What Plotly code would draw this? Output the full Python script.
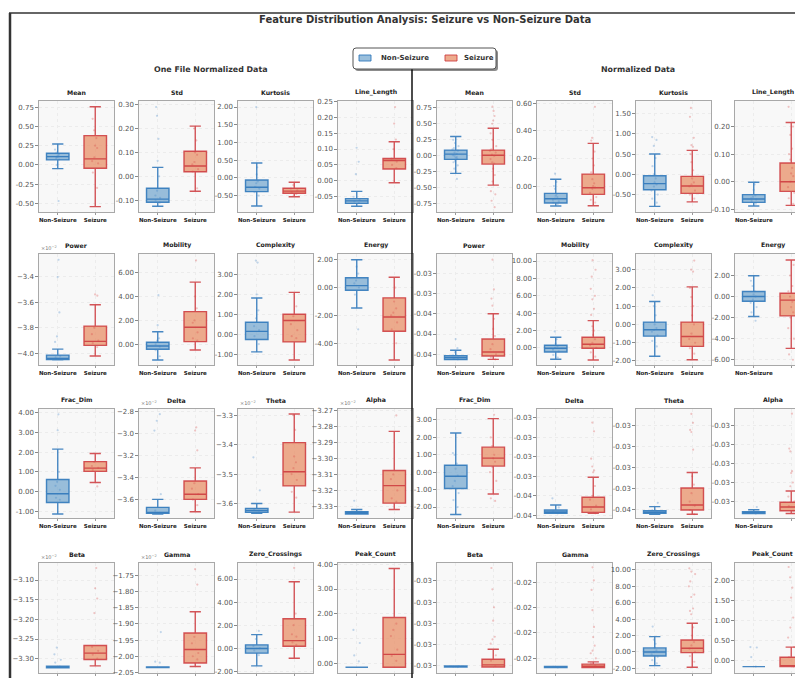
import plotly.graph_objects as go

# page body adds an 8px margin; reference pixel (x, y) -> figure pixel (x-8, y-8)
OFF = 8
W, H = 803 - OFF, 678 - OFF

features = ["Mean", "Std", "Kurtosis", "Line_Length",
            "Power", "Mobility", "Complexity", "Energy",
            "Frac_Dim", "Delta", "Theta", "Alpha",
            "Beta", "Gamma", "Zero_Crossings", "Peak_Count"]
groups = ["Non-Seizure", "Seizure"]
section_titles = ["One File Normalized Data", "Normalized Data"]
main_title = "Feature Distribution Analysis: Seizure vs Non-Seizure Data"

# ---------- One File Normalized Data ----------
# box stats: [lower whisker, q1, median, q3, upper whisker]
one_file_ns_stats = [
    [-0.048, 0.065, 0.108, 0.152, 0.273],
    [-0.125, -0.108, -0.095, -0.05, 0.0375],
    [-0.79, -0.386, -0.26, -0.056, 0.42],
    [-0.08, -0.071, -0.063, -0.056, -0.033],
    [-4.05, -4.047, -4.039, -4.013, -3.966],
    [-1.31, -0.42, -0.14, 0.17, 1.05],
    [-0.89, -0.27, 0.14, 0.6, 1.82],
    [-1.47, -0.19, 0.14, 0.70, 2.0],
    [-1.12, -0.54, -0.1, 0.62, 2.15],
    [-3.73, -3.725, -3.716, -3.67, -3.597],
    [-3.633, -3.63, -3.624, -3.617, -3.6],
    [-3.3348, -3.3348, -3.3341, -3.3333, -3.332],
    [-3.323, -3.3229, -3.321, -3.3194, -3.319],
    [-2.035, -2.035, -2.034, -2.033, -2.033],
    [-1.53, -0.43, -0.03, 0.29, 1.18],
    [-0.16, -0.16, -0.16, -0.16, -0.16],
]
one_file_s_stats = [
    [-0.543, -0.043, 0.078, 0.381, 0.758],
    [-0.0625, 0.019, 0.043, 0.105, 0.21],
    [-0.53, -0.43, -0.37, -0.29, -0.12],
    [-0.006, 0.037, 0.064, 0.07, 0.123],
    [-4.02, -3.937, -3.906, -3.787, -3.62],
    [-0.48, 0.22, 1.42, 2.73, 5.19],
    [-1.3, -0.39, 0.69, 1.0, 2.1],
    [-5.2, -3.14, -2.11, -0.74, 0.74],
    [0.47, 1.03, 1.19, 1.52, 1.93],
    [-3.71, -3.597, -3.55, -3.43, -3.31],
    [-3.629, -3.54, -3.492, -3.393, -3.296],
    [-3.332, -3.328, -3.317, -3.3075, -3.283],
    [-3.3183, -3.3022, -3.286, -3.2666, -3.2666],
    [-2.032, -2.021, -1.979, -1.928, -1.862],
    [-0.87, 0.17, 0.66, 2.56, 5.77],
    [-0.16, -0.16, 0.36, 1.85, 3.83],
]
one_file_ns_points = [
    [0.10, 0.12, 0.14, 0.09, 0.16, 0.07, 0.11, 0.20, 0.0, -0.47],
    [0.29, 0.253, 0.157, 0.065, -0.06, -0.09, -0.1, -0.11, -0.08, 0.0],
    [2.0, -0.15, -0.3, -0.25, -0.1, 0.1, -0.4, -0.5, 0.3],
    [0.104, 0.06, 0.021, -0.06, -0.065, -0.07, -0.05],
    [-3.27, -3.405, -3.68, -3.867, -3.91, -4.03, -4.04, -4.02],
    [4.1, 1.6, 0.0, -0.2, -0.5, 0.3, -1.0, 0.5],
    [3.7, 3.6, 2.0, 0.4, 0.2, -0.1, -0.5, 0.8, 1.2],
    [-3.0, 1.0, 0.5, 0.3, -0.5, 0.0, 1.5],
    [3.9, 3.1, 1.0, 0.5, 0.1, -0.3, -0.4, 0.3],
    [-2.82, -2.88, -2.97, -3.55, -3.7, -3.72],
    [-3.443, -3.555, -3.62, -3.625],
    [-3.3265, -3.334],
    [-3.2717, -3.289, -3.303, -3.31, -3.32],
    [-1.925, -2.017, -2.02],
    [1.5, 0.8, 0.2, -0.2, -0.6, 0.0],
    [1.35, 0.82, 0.32, 0.08],
]
one_file_s_points = [
    [0.35, 0.22, 0.10, 0.02, 0.45, -0.3, 0.6, 0.05, -0.1, 0.25],
    [0.2, 0.1, 0.06, 0.03, 0.02, 0.05, 0.09, -0.05, 0.15],
    [-0.35, -0.4, -0.3, -0.45, -0.2],
    [0.232, 0.18, 0.13, 0.06, 0.07, 0.05, 0.04, 0.1],
    [-3.54, -3.55, -3.8, -3.85, -3.9, -3.95, -3.92],
    [7.0, 4.0, 2.0, 1.0, 0.5, 1.8, 3.0, 0.3],
    [1.4, 0.9, 0.5, -0.1, -0.2, 0.2],
    [-1.0, -1.5, -2.0, -2.5, -3.0, -1.8, 0.0, -4.0],
    [0.27, 1.2, 1.1, 1.3, 1.5],
    [-2.94, -2.97, -3.15, -3.45, -3.5, -3.55, -3.6, -3.65],
    [-3.44, -3.46, -3.48, -3.5, -3.52, -3.56, -3.58, -3.35, -3.3],
    [-3.273, -3.31, -3.313, -3.32, -3.325, -3.327],
    [-3.0695, -3.121, -3.147, -3.184, -3.27, -3.28, -3.29, -3.3],
    [-1.73, -1.778, -1.94, -1.96, -1.99, -2.0, -2.01],
    [6.96, 1.2, 1.0, 0.5, 0.3, 2.0, 3.0],
    [1.6, 1.35, 1.1, 0.55, 0.1, 0.3],
]
one_file_ytick_values = [
    [0.75, 0.5, 0.25, 0.0, -0.25, -0.5],
    [0.3, 0.2, 0.1, 0.0, -0.1],
    [2.0, 1.5, 1.0, 0.5, 0.0, -0.5],
    [0.25, 0.2, 0.15, 0.1, 0.05, 0.0, -0.05],
    [-3.4, -3.6, -3.8, -4.0],
    [6.0, 4.0, 2.0, 0.0],
    [3.0, 2.0, 1.0, 0.0, -1.0],
    [2.0, 0.0, -2.0, -4.0],
    [4.0, 3.0, 2.0, 1.0, 0.0, -1.0],
    [-2.8, -3.0, -3.2, -3.4, -3.6],
    [-3.3, -3.4, -3.5, -3.6],
    [-3.27, -3.28, -3.29, -3.30, -3.31, -3.32, -3.33],
    [-3.10, -3.15, -3.20, -3.25, -3.30],
    [-1.75, -1.80, -1.85, -1.90, -1.95, -2.00, -2.05],
    [6.0, 4.0, 2.0, 0.0, -2.0],
    [4.0, 3.0, 2.0, 1.0, 0.0],
]
one_file_ytick_labels = [
    ["0.75", "0.50", "0.25", "0.00", "-0.25", "-0.50"],
    ["0.30", "0.20", "0.10", "0.00", "-0.10"],
    ["2.00", "1.50", "1.00", "0.50", "0.00", "-0.50"],
    ["0.25", "0.20", "0.15", "0.10", "0.05", "0.00", "-0.05"],
    ["−3.4", "−3.6", "−3.8", "−4.0"],
    ["6.00", "4.00", "2.00", "0.00"],
    ["3.00", "2.00", "1.00", "0.00", "-1.00"],
    ["2.00", "0.00", "-2.00", "-4.00"],
    ["4.00", "3.00", "2.00", "1.00", "0.00", "-1.00"],
    ["−2.8", "−3.0", "−3.2", "−3.4", "−3.6"],
    ["−3.3", "−3.4", "−3.5", "−3.6"],
    ["−3.27", "−3.28", "−3.29", "−3.30", "−3.31", "−3.32", "−3.33"],
    ["−3.10", "−3.15", "−3.20", "−3.25", "−3.30"],
    ["−1.75", "−1.80", "−1.85", "−1.90", "−1.95", "−2.00", "−2.05"],
    ["6.00", "4.00", "2.00", "0.00", "-2.00"],
    ["4.00", "3.00", "2.00", "1.00", "0.00"],
]
one_file_offset_labels = ["", "", "", "", "×10<sup>−2</sup>", "", "", "",
                          "", "×10<sup>−2</sup>", "×10<sup>−2</sup>", "×10<sup>−2</sup>",
                          "×10<sup>−2</sup>", "×10<sup>−2</sup>", "", ""]

# ---------- Normalized Data ----------
normalized_ns_stats = [
    [-0.274, -0.056, 0.026, 0.089, 0.30],
    [-0.145, -0.123, -0.092, -0.053, 0.05],
    [-0.79, -0.38, -0.23, -0.035, 0.50],
    [-0.088, -0.075, -0.063, -0.047, -0.002],
    [-0.0405, -0.04053, -0.04034, -0.04014, -0.0396],
    [-1.3, -0.46, -0.04, 0.31, 1.23],
    [-1.74, -0.64, -0.29, 0.13, 1.26],
    [-1.9, -0.44, 0.0, 0.48, 1.97],
    [-2.43, -0.94, -0.23, 0.4, 2.25],
    [-0.0359, -0.0359, -0.03583, -0.03573, -0.03547],
    [-0.0351, -0.03508, -0.03505, -0.035016, -0.03492],
    [-0.03393, -0.03393, -0.03392, -0.03391, -0.03389],
    [-0.03181, -0.03181, -0.031806, -0.0318, -0.0318],
    [-0.02168, -0.02168, -0.02167, -0.02166, -0.02166],
    [-1.67, -0.49, 0.0, 0.49, 1.87],
    [-0.16, -0.16, -0.16, -0.16, -0.16],
]
normalized_s_stats = [
    [-0.456, -0.129, 0.01, 0.089, 0.43],
    [-0.143, -0.06, -0.012, 0.087, 0.31],
    [-0.68, -0.47, -0.29, -0.05, 0.59],
    [-0.086, -0.035, 0.0, 0.068, 0.215],
    [-0.0405, -0.04017, -0.03977, -0.0385, -0.0360],
    [-1.38, -0.04, 0.42, 1.23, 3.15],
    [-1.93, -1.2, -0.66, 0.13, 2.06],
    [-4.92, -1.84, -0.34, 0.32, 3.47],
    [-1.25, 0.35, 0.81, 1.44, 3.08],
    [-0.0359, -0.03585, -0.03558, -0.03508, -0.03405],
    [-0.0351, -0.035, -0.03488, -0.03448, -0.03411],
    [-0.03393, -0.0339, -0.03386, -0.03381, -0.03369],
    [-0.03181, -0.031809, -0.03179, -0.031737, -0.031642],
    [-0.02168, -0.02168, -0.021654, -0.021615, -0.02157],
    [-1.87, -0.08, 0.45, 1.46, 3.5],
    [-0.16, -0.16, -0.16, 0.075, 0.33],
]
normalized_ns_points = [
    [-0.36, 0.2, 0.15, 0.12, 0.08, 0.05, 0.03, 0.0, -0.02, -0.05, -0.08, -0.1, -0.15, -0.2, 0.25, 0.1, 0.01, -0.03],
    [0.09, 0.03, -0.02, -0.06, -0.08, -0.1, -0.11, -0.12, -0.13, -0.09, -0.07, 0.0],
    [0.92, 0.85, 0.7, 0.4, 0.2, 0.0, -0.1, -0.2, -0.25, -0.3, -0.4, -0.5, -0.6, -0.7],
    [-0.01, -0.03, -0.05, -0.06, -0.065, -0.07, -0.08, -0.055],
    [-0.0385, -0.0394, -0.0398, -0.0401, -0.0403, -0.0404, -0.0405],
    [1.9, 1.0, 0.5, 0.2, 0.0, -0.2, -0.4, -0.8, -1.1],
    [1.6, 1.0, 0.5, 0.0, -0.2, -0.3, -0.4, -0.6, -0.9, -1.2],
    [-2.3, 1.5, 1.0, 0.5, 0.2, 0.0, -0.3, -0.6, -1.0, -1.5],
    [1.1, 1.0, 0.5, 0.2, -0.2, -0.5, -0.8, -1.2, -1.6, -2.0],
    [-0.03513, -0.0356, -0.0358, -0.0359],
    [-0.03483, -0.0350, -0.03506],
    [-0.03386, -0.03392, -0.03393],
    [-0.031806, -0.0318, -0.03181],
    [-0.02167, -0.02168],
    [3.09, 1.5, 1.0, 0.5, 0.2, 0.0, -0.3, -0.6, -1.0, -1.4],
    [0.33, 0.32, 0.08, -0.16],
]
normalized_s_points = [
    [0.765, 0.7, 0.62, 0.55, 0.5, 0.35, 0.25, 0.15, 0.08, 0.05, 0.02, 0.0, -0.05, -0.1, -0.2, -0.3, -0.4, -0.55, -0.6, -0.7, -0.8, 0.1, -0.12],
    [0.575, 0.35, 0.33, 0.25, 0.2, 0.15, 0.1, 0.05, 0.0, -0.02, -0.05, -0.08, -0.1, -0.12, 0.02, -0.01],
    [1.64, 1.42, 0.9, 0.72, 0.68, 0.5, 0.3, 0.1, -0.1, -0.2, -0.3, -0.4, -0.5, -0.6, -0.25],
    [0.272, 0.2, 0.17, 0.12, 0.1, 0.08, 0.05, 0.02, 0.0, -0.02, -0.04, -0.06, -0.08, 0.03],
    [-0.03066, -0.0336, -0.0345, -0.0352, -0.0365, -0.0375, -0.0382, -0.039, -0.0395, -0.04, -0.0403, -0.0405],
    [10.1, 9.0, 8.2, 6.8, 6.0, 5.6, 4.5, 3.8, 2.5, 2.0, 1.5, 1.0, 0.6, 0.3, 0.0, -0.5, -1.0],
    [3.5, 3.0, 2.9, 2.0, 1.5, 1.0, 0.5, 0.0, -0.5, -0.8, -1.0, -1.3, -1.6],
    [-5.5, -6.0, 3.0, 2.0, 1.0, 0.5, 0.0, -0.5, -1.0, -1.5, -2.0, -3.0, -4.0],
    [3.3, -1.5, -1.65, 2.0, 1.5, 1.0, 0.8, 0.6, 0.3, 0.0, -0.5],
    [-0.03125, -0.0317, -0.0331, -0.0335, -0.0337, -0.0338, -0.0345, -0.035, -0.0352, -0.0355, -0.0357, -0.0359],
    [-0.03272, -0.03293, -0.0331, -0.03315, -0.03357, -0.0342, -0.0344, -0.0346, -0.0348, -0.0349, -0.035, -0.0351],
    [-0.03287, -0.03324, -0.03327, -0.03348, -0.0335, -0.0336, -0.03364, -0.03375, -0.0338, -0.03385, -0.0339],
    [-0.030878, -0.031079, -0.031248, -0.031374, -0.031525, -0.03155, -0.03159, -0.0317, -0.03175, -0.0318],
    [-0.019705, -0.01996, -0.02015, -0.02055, -0.02088, -0.02108, -0.02125, -0.02135, -0.0214, -0.0215, -0.0216, -0.02165],
    [10.2, 9.8, 9.5, 8.6, 8.0, 7.0, 6.7, 5.3, 5.0, 4.6, 3.0, 2.0, 1.2, 0.8, 0.4, 0.0, -0.5, -1.2],
    [2.34, 2.08, 1.82, 1.57, 1.07, 0.82, 0.57, 0.33, 0.08, -0.16],
]
normalized_ytick_values = [
    [0.75, 0.5, 0.25, 0.0, -0.25, -0.5, -0.75],
    [0.6, 0.4, 0.2, 0.0],
    [1.5, 1.0, 0.5, 0.0, -0.5],
    [0.2, 0.1, 0.0, -0.1],
    [-0.032, -0.034, -0.036, -0.038, -0.040],
    [10.0, 8.0, 6.0, 4.0, 2.0, 0.0],
    [3.0, 2.0, 1.0, 0.0, -1.0, -2.0],
    [2.0, 0.0, -2.0, -4.0, -6.0],
    [3.0, 2.0, 1.0, 0.0, -1.0, -2.0],
    [-0.031, -0.032, -0.033, -0.034, -0.035, -0.036],
    [-0.033, -0.0335, -0.034, -0.0345, -0.035],
    [-0.0330, -0.0332, -0.0334, -0.0336, -0.0338],
    [-0.0310, -0.0312, -0.0314, -0.0316, -0.0318],
    [-0.0200, -0.0205, -0.0210, -0.0215],
    [10.0, 8.0, 6.0, 4.0, 2.0, 0.0, -2.0],
    [2.0, 1.5, 1.0, 0.5, 0.0],
]
normalized_ytick_labels = [
    ["0.75", "0.50", "0.25", "0.00", "-0.25", "-0.50", "-0.75"],
    ["0.60", "0.40", "0.20", "0.00"],
    ["1.50", "1.00", "0.50", "0.00", "-0.50"],
    ["0.20", "0.10", "0.00", "-0.10"],
    ["-0.03", "-0.03", "-0.04", "-0.04", "-0.04"],
    ["10.00", "8.00", "6.00", "4.00", "2.00", "0.00"],
    ["3.00", "2.00", "1.00", "0.00", "-1.00", "-2.00"],
    ["2.00", "0.00", "-2.00", "-4.00", "-6.00"],
    ["3.00", "2.00", "1.00", "0.00", "-1.00", "-2.00"],
    ["-0.03", "-0.03", "-0.03", "-0.03", "-0.04", "-0.04"],
    ["-0.03", "-0.03", "-0.03", "-0.03", "-0.04"],
    ["-0.03", "-0.03", "-0.03", "-0.03", "-0.03"],
    ["-0.03", "-0.03", "-0.03", "-0.03", "-0.03"],
    ["-0.02", "-0.02", "-0.02", "-0.02"],
    ["10.00", "8.00", "6.00", "4.00", "2.00", "0.00", "-2.00"],
    ["2.00", "1.50", "1.00", "0.50", "0.00"],
]
normalized_offset_labels = [""] * 16

# ---------- axis view ranges (layout) ----------
one_file_y_ranges = [
    [-0.613, 0.832], [-0.149, 0.315], [-0.96, 2.17], [-0.098, 0.251],
    [-4.09, -3.225], [-1.73, 7.54], [-1.55, 4.03], [-5.56, 2.41],
    [-1.32, 4.17], [-3.767, -2.773], [-3.649, -3.279], [-3.3373, -3.269],
    [-3.3364, -3.0568], [-2.052, -1.711], [-2.15, 7.39], [-0.39, 4.05],
]
normalized_y_ranges = [
    [-0.875, 0.854], [-0.188, 0.617], [-0.93, 1.81], [-0.11, 0.293],
    [-0.04106, -0.0301], [-1.96, 10.81], [-2.22, 3.86], [-6.5, 4.04],
    [-2.63, 3.63], [-0.03614, -0.030554], [-0.03519, -0.032604], [-0.033977, -0.03282],
    [-0.031866, -0.030831], [-0.02179, -0.019619], [-2.57, 10.85], [-0.32, 2.44],
]

halves = [
    dict(ns_stats=one_file_ns_stats, s_stats=one_file_s_stats,
         ns_pts=one_file_ns_points, s_pts=one_file_s_points,
         tv=one_file_ytick_values, tt=one_file_ytick_labels,
         yr=one_file_y_ranges, off=one_file_offset_labels),
    dict(ns_stats=normalized_ns_stats, s_stats=normalized_s_stats,
         ns_pts=normalized_ns_points, s_pts=normalized_s_points,
         tv=normalized_ytick_values, tt=normalized_ytick_labels,
         yr=normalized_y_ranges, off=normalized_offset_labels),
]

# ---------- styling / layout (reference pixel coordinates) ----------
FONT = "DejaVu Sans"
col_left = [39, 139, 238, 338, 437, 537, 636, 735]
row_top = [101, 254, 409, 563]
row_bottom = [212, 365, 518, 673]
PW = 75
PX_PER_UNIT = PW / 2.0


def px(x):
    return (x - OFF) / W


def py(y):
    return 1 - (y - OFF) / H


fills = ["rgba(120,170,208,0.75)", "rgba(232,150,112,0.8)"]
edges = ["rgba(40,115,185,0.85)", "rgba(205,55,60,0.85)"]
pt_colors = ["rgba(60,130,200,0.3)", "rgba(215,70,70,0.3)"]

fig = go.Figure()
layout_axes = {}
annotations = []

for h, half in enumerate(halves):
    for f, feat in enumerate(features):
        r, c = divmod(f, 4)
        n = h * 16 + f + 1
        xa = "x" if n == 1 else f"x{n}"
        ya = "y" if n == 1 else f"y{n}"
        left = col_left[c + 4 * h]
        right = min(left + PW, 803)
        top, bot = row_top[r], row_bottom[r]
        stats = [half["ns_stats"][f], half["s_stats"][f]]
        pts = [half["ns_pts"][f], half["s_pts"][f]]
        for g in range(2):
            s = stats[g]
            fig.add_trace(go.Box(
                x=[g], lowerfence=[s[0]], q1=[s[1]], median=[s[2]], q3=[s[3]], upperfence=[s[4]],
                width=0.6, whiskerwidth=0.5, boxpoints=False,
                fillcolor=fills[g], line=dict(color=edges[g], width=1.4),
                name=groups[g], legendgroup=groups[g], showlegend=False,
                xaxis=xa, yaxis=ya, hoverinfo="skip"))
        for g in range(2):
            fig.add_trace(go.Box(
                x=[g] * len(pts[g]), y=pts[g], boxpoints="all", jitter=0.35, pointpos=0,
                width=0.6, fillcolor="rgba(0,0,0,0)",
                line=dict(color="rgba(0,0,0,0)", width=0),
                marker=dict(size=2.2, color=pt_colors[g], line=dict(width=0)),
                name=groups[g], showlegend=False, xaxis=xa, yaxis=ya, hoverinfo="skip"))
        xr = [-0.5, -0.5 + (right - left) / PX_PER_UNIT]
        kx = "xaxis" if n == 1 else f"xaxis{n}"
        ky = "yaxis" if n == 1 else f"yaxis{n}"
        layout_axes[kx] = dict(
            domain=[px(left), min(px(right), 1.0)], anchor=ya, range=xr, automargin=False,
            tickmode="array", tickvals=[0, 1], ticktext=groups,
            tickfont=dict(family=FONT, size=5.5, color="#222", weight="bold"),
            ticks="outside", ticklen=2, tickcolor="#999",
            showline=True, mirror=True, linecolor="#a8a8a8", linewidth=1.4,
            showgrid=True, gridcolor="#ececec", griddash="dot", gridwidth=0.6,
            zeroline=False, fixedrange=True)
        layout_axes[ky] = dict(
            domain=[py(bot), py(top)], anchor=xa, range=half["yr"][f], automargin=False,
            tickmode="array", tickvals=half["tv"][f], ticktext=half["tt"][f],
            tickfont=dict(family=FONT, size=7, color="#555"),
            ticks="outside", ticklen=2.5, tickcolor="#888",
            showline=True, mirror=True, linecolor="#a8a8a8", linewidth=1.4,
            showgrid=True, gridcolor="#ececec", griddash="dot", gridwidth=0.6,
            zeroline=False, fixedrange=True)
        annotations.append(dict(
            text=f"<b>{feat}</b>", x=px(left + PW / 2), y=py(top - 3),
            xref="paper", yref="paper", xanchor="center", yanchor="bottom",
            showarrow=False, font=dict(family=FONT, size=6.2, color="#222")))
        if half["off"][f]:
            annotations.append(dict(
                text=half["off"][f], x=px(left), y=py(top - 1),
                xref="paper", yref="paper", xanchor="left", yanchor="bottom",
                showarrow=False, font=dict(family=FONT, size=5, color="#777")))

annotations.append(dict(
    text=f"<b>{main_title}</b>", x=px(425), y=py(20), xref="paper", yref="paper",
    xanchor="center", yanchor="middle", showarrow=False,
    font=dict(family=FONT, size=10, color="#333")))
for xc, t in zip([211, 638], section_titles):
    annotations.append(dict(
        text=f"<b>{t}</b>", x=px(xc), y=py(70), xref="paper", yref="paper",
        xanchor="center", yanchor="middle", showarrow=False,
        font=dict(family=FONT, size=7.9, color="#333")))

# ---------- legend (drawn box with patches and labels) ----------
legend_box = (353, 48, 496, 69)
legend_patch_x = [359, 445]
legend_text_x = [379, 462]


def rounded_rect(x0, y0, x1, y1, rad):
    p = [
        f"M {px(x0 + rad)},{py(y0)}", f"L {px(x1 - rad)},{py(y0)}",
        f"Q {px(x1)},{py(y0)} {px(x1)},{py(y0 + rad)}",
        f"L {px(x1)},{py(y1 - rad)}",
        f"Q {px(x1)},{py(y1)} {px(x1 - rad)},{py(y1)}",
        f"L {px(x0 + rad)},{py(y1)}",
        f"Q {px(x0)},{py(y1)} {px(x0)},{py(y1 - rad)}",
        f"L {px(x0)},{py(y0 + rad)}",
        f"Q {px(x0)},{py(y0)} {px(x0 + rad)},{py(y0)}", "Z"]
    return " ".join(p)


lx0, ly0, lx1, ly1 = legend_box
shapes = [
    dict(type="line", xref="paper", yref="paper", x0=px(9), x1=1, y0=py(13), y1=py(13),
         line=dict(color="#333", width=1.5)),
    dict(type="line", xref="paper", yref="paper", x0=px(10), x1=px(10), y0=0, y1=py(13),
         line=dict(color="#333", width=2.5)),
    dict(type="line", xref="paper", yref="paper", x0=px(412), x1=px(412), y0=0, y1=py(69),
         line=dict(color="#111", width=1.5)),
    dict(type="path", xref="paper", yref="paper",
         path=rounded_rect(lx0 + 2, ly0 + 2, lx1 + 2, ly1 + 2, 3),
         fillcolor="rgba(0,0,0,0.45)", line=dict(width=0)),
    dict(type="path", xref="paper", yref="paper",
         path=rounded_rect(lx0, ly0, lx1, ly1, 3),
         fillcolor="white", line=dict(color="#555", width=1)),
]
for g in range(2):
    shapes.append(dict(type="rect", xref="paper", yref="paper",
                       x0=px(legend_patch_x[g]), x1=px(legend_patch_x[g] + 12),
                       y0=py(61), y1=py(55), fillcolor=fills[g],
                       line=dict(color=edges[g], width=1)))
    annotations.append(dict(
        text=f"<b>{groups[g]}</b>", x=px(legend_text_x[g]), y=py(58.3),
        xref="paper", yref="paper", xanchor="left", yanchor="middle", showarrow=False,
        font=dict(family=FONT, size=7, color="#333")))

fig.update_layout(
    width=W, height=H, margin=dict(l=0, r=0, t=0, b=0),
    paper_bgcolor="white", plot_bgcolor="#f8f8f8",
    boxmode="overlay", showlegend=False,
    annotations=annotations, shapes=shapes,
    **layout_axes)

fig.write_html("out.html")
